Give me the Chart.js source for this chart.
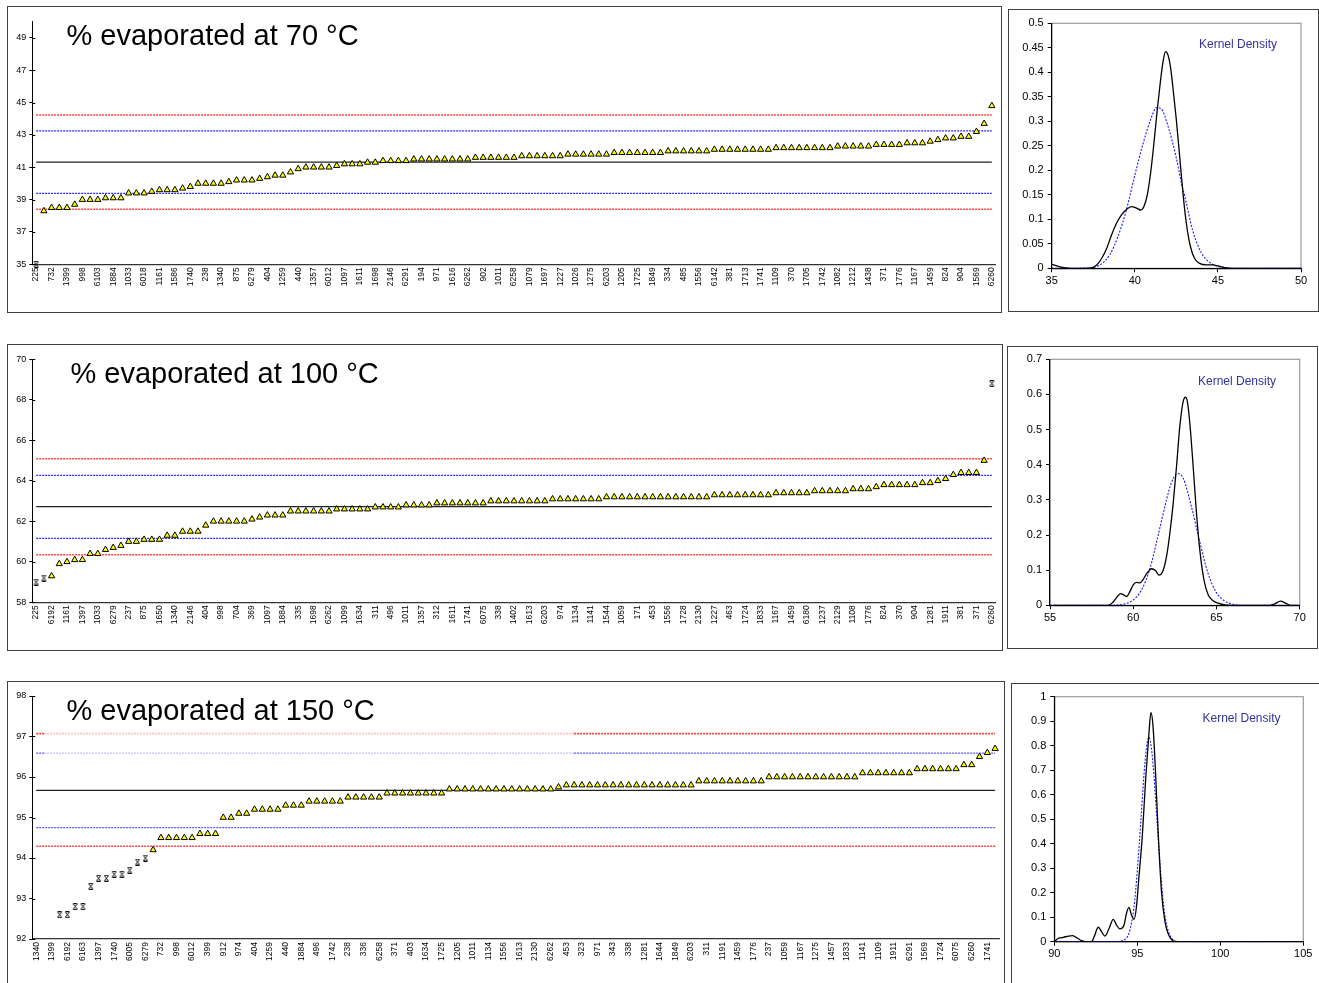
<!DOCTYPE html>
<html><head><meta charset="utf-8">
<script src="https://cdn.jsdelivr.net/npm/chart.js@4.4.1/dist/chart.umd.min.js"></script>
<style>
body{margin:0;background:#fff;width:1319px;height:983px;overflow:hidden;position:relative;font-family:"Liberation Sans",Arial,sans-serif}
.box{position:absolute;border:1px solid #404040;box-sizing:border-box}
canvas{position:absolute}
.ttl{position:absolute;font-size:29px;line-height:29px;color:#000;white-space:nowrap;z-index:5}
.kd{position:absolute;font-size:12px;line-height:12px;color:#333399;white-space:nowrap;z-index:5}
</style></head><body>
<div class="box" style="left:7px;top:6px;width:995px;height:307px"></div>
<div class="box" style="left:1008px;top:9px;width:311px;height:303px"></div>
<div class="box" style="left:7px;top:344px;width:996px;height:307px"></div>
<div class="box" style="left:1007px;top:346px;width:311px;height:303px"></div>
<div class="box" style="left:7px;top:681px;width:998px;height:310px"></div>
<div class="box" style="left:1011px;top:683px;width:320px;height:310px"></div>
<canvas id="c70" width="993" height="305" style="left:8px;top:7px"></canvas>
<canvas id="k70" width="309" height="301" style="left:1009px;top:10px"></canvas>
<canvas id="c100" width="994" height="305" style="left:8px;top:345px"></canvas>
<canvas id="k100" width="309" height="301" style="left:1008px;top:347px"></canvas>
<canvas id="c150" width="996" height="301" style="left:8px;top:682px"></canvas>
<canvas id="k150" width="307" height="299" style="left:1012px;top:684px"></canvas>
<div class="ttl" style="left:66.5px;top:20.5px">% evaporated at 70 °C</div>
<div class="ttl" style="left:70.5px;top:359px">% evaporated at 100 °C</div>
<div class="ttl" style="left:66.5px;top:696px">% evaporated at 150 °C</div>
<div class="kd" style="left:1199px;top:37.5px">Kernel Density</div>
<div class="kd" style="left:1198px;top:375px">Kernel Density</div>
<div class="kd" style="left:1202.5px;top:711.5px">Kernel Density</div>
<script>
// ---------- 70 °C ----------
const labels70 = ['225','732','1399','998','6103','1884','1033','6018','1161','1586','1740','238','1340','875','6279','404','1259','440','1357','6012','1097','1611','1698','2146','6291','194','971','1616','6262','902','1011','6258','1079','1697','1227','1026','1275','6203','1205','1725','1849','334','485','1556','6142','381','1713','1741','1109','370','1705','1742','1082','1212','1438','371','1776','1167','1459','824','904','1569','6260'];
const values70 = [35.0,38.3,38.5,38.5,38.5,38.7,39.0,39.0,39.0,39.1,39.1,39.1,39.4,39.4,39.4,39.5,39.6,39.6,39.6,39.7,39.8,40.0,40.0,40.0,40.0,40.1,40.2,40.2,40.2,40.3,40.4,40.5,40.5,40.7,40.9,41.0,41.0,41.0,41.0,41.1,41.2,41.2,41.2,41.3,41.3,41.4,41.4,41.4,41.4,
41.5,41.5,41.5,41.5,41.5,41.5,41.5,41.5,41.6,41.6,41.6,41.6,41.6,41.6,41.7,41.7,41.7,41.7,41.7,41.7,41.8,41.8,41.8,41.8,41.8,41.8,41.9,41.9,41.9,41.9,41.9,41.9,41.9,
42.0,42.0,42.0,42.0,42.0,42.0,42.1,42.1,42.1,42.1,42.1,42.1,42.1,42.1,42.2,42.2,42.2,42.2,42.2,42.2,42.2,42.2,42.3,42.3,42.3,42.3,42.3,42.4,42.4,42.4,42.4,42.5,42.5,42.5,42.6,42.7,42.8,42.8,42.9,42.9,43.2,43.7,44.8];
const outliers70 = [0];
const refs70 = [44.23, 43.25, 41.32, 39.39, 38.40]; // redHi, blueHi, mean, blueLo, redLo
const yTicks70 = [35,37,39,41,43,45,47,49];
const kdeX70 = [35,35.5,36,36.5,37,37.5,37.8,38,38.3,38.6,38.9,39.2,39.5,39.8,40.1,40.35,40.55,40.75,40.95,41.15,41.35,41.55,41.7,41.85,42,42.15,42.3,42.5,42.7,42.9,43.1,43.35,43.6,43.9,44.3,44.7,45,45.4,45.9,50];
const kdeY70 = [0.008,0.003,0.0005,0,0,0.002,0.01,0.02,0.04,0.068,0.092,0.109,0.12,0.126,0.123,0.119,0.126,0.15,0.194,0.255,0.323,0.384,0.422,0.442,0.435,0.41,0.367,0.303,0.228,0.153,0.092,0.044,0.02,0.01,0.007,0.007,0.005,0.0015,0,0];
const normX70 = [35,36,37,37.5,38,38.5,39,39.5,40,40.5,41,41.3,41.6,42,42.5,42.8,43,43.5,44,44.5,45,45.5,46,50];
const normY70 = [0,0,0.0005,0.002,0.009,0.028,0.066,0.12,0.19,0.255,0.308,0.328,0.325,0.29,0.225,0.175,0.148,0.075,0.032,0.012,0.004,0.001,0,0];

// ---------- 100 °C ----------
const labels100 = ['225','6192','1161','1397','1033','6279','237','875','1650','1340','2146','404','998','704','369','1097','1884','335','1698','6262','1099','1634','311','496','1011','1357','312','1611','1741','6075','338','1402','1613','6203','974','1134','1141','1544','1059','171','453','1556','1728','2130','1227','463','1724','1833','1167','1459','6180','1237','2129','1108','1776','824','370','904','1281','1911','381','371','6260'];
const values100 = [59.0,59.2,59.3,59.9,60.0,60.1,60.1,60.4,60.4,60.6,60.7,60.8,61.0,61.0,61.1,61.1,61.1,61.3,61.3,61.5,61.5,61.5,61.8,
62.0,62.0,62.0,62.0,62.0,62.1,62.2,62.3,62.3,62.3,62.5,62.5,62.5,62.5,62.5,62.5,62.6,62.6,62.6,62.6,62.6,62.7,62.7,62.7,62.7,62.8,62.8,62.8,62.8,
62.9,62.9,62.9,62.9,62.9,62.9,62.9,63.0,63.0,63.0,63.0,63.0,63.0,63.0,63.0,63.1,63.1,63.1,63.1,63.1,63.1,63.1,
63.2,63.2,63.2,63.2,63.2,63.2,63.2,63.2,63.2,63.2,63.2,63.2,63.2,63.2,63.3,63.3,63.3,63.3,63.3,63.3,63.3,63.3,
63.4,63.4,63.4,63.4,63.4,63.5,63.5,63.5,63.5,63.5,63.6,63.6,63.6,63.7,63.8,63.8,63.8,63.8,63.8,63.9,63.9,64.0,64.1,64.3,64.4,64.4,64.4,65.0,68.8];
const outliers100 = [0,1,124];
const refs100 = [65.09, 64.27, 62.72, 61.16, 60.35];
const yTicks100 = [58,60,62,64,66,68,70];
const kdeX100 = [55,58.5,58.8,59.05,59.25,59.45,59.6,59.8,60,60.2,60.4,60.6,60.85,61.1,61.35,61.55,61.8,62,62.2,62.4,62.6,62.8,63,63.15,63.25,63.4,63.6,63.8,64,64.25,64.5,64.8,65.1,65.5,66,68.2,68.5,68.85,69.15,69.45,70];
const kdeY100 = [0,0,0.01,0.025,0.033,0.029,0.025,0.039,0.058,0.065,0.064,0.074,0.093,0.104,0.098,0.086,0.1,0.139,0.205,0.29,0.395,0.51,0.58,0.592,0.58,0.518,0.395,0.262,0.157,0.072,0.03,0.013,0.006,0.001,0,0,0.004,0.012,0.006,0,0];
const normX100 = [55,58.5,59,59.5,60,60.5,61,61.5,62,62.3,62.7,63,63.5,64,64.5,65,65.5,66,66.5,70];
const normY100 = [0,0,0.001,0.004,0.015,0.044,0.104,0.2,0.3,0.35,0.375,0.362,0.28,0.18,0.09,0.036,0.012,0.003,0,0];

// ---------- 150 °C ----------
const labels150 = ['1340','1399','6192','6163','1397','1740','6005','6279','732','998','6012','399','912','974','404','1259','440','1884','496','1742','238','336','6258','371','403','1634','1725','1205','1011','1134','1556','1613','2130','6262','453','323','971','343','338','1281','1644','1849','6203','311','1191','1459','1776','237','1059','1167','1275','1457','1833','1141','1109','1911','6291','1569','1724','6075','6260','1741'];
const values150 = [90.4,90.9,91.1,92.6,92.6,92.8,92.8,93.3,93.5,93.5,93.6,93.6,93.7,93.9,94.0,94.2,94.5,94.5,94.5,94.5,94.5,94.6,94.6,94.6,
95.0,95.0,95.1,95.1,95.2,95.2,95.2,95.2,95.3,95.3,95.3,95.4,95.4,95.4,95.4,95.4,95.5,95.5,95.5,95.5,95.5,
95.6,95.6,95.6,95.6,95.6,95.6,95.6,95.6,95.7,95.7,95.7,95.7,95.7,95.7,95.7,95.7,95.7,95.7,95.7,95.7,95.7,95.7,95.75,
95.8,95.8,95.8,95.8,95.8,95.8,95.8,95.8,95.8,95.8,95.8,95.8,95.8,95.8,95.8,95.8,95.8,95.9,95.9,95.9,95.9,95.9,95.9,95.9,95.9,95.9,
96.0,96.0,96.0,96.0,96.0,96.0,96.0,96.0,96.0,96.0,96.0,96.0,96.1,96.1,96.1,96.1,96.1,96.1,96.1,96.2,96.2,96.2,96.2,96.2,96.2,96.3,96.3,96.5,96.6,96.7];
const outliers150 = [0,1,2,3,4,5,6,7,8,9,10,11,12,13,14];
const refs150 = [97.07, 96.59, 95.67, 94.75, 94.29];
const yTicks150 = [92,93,94,95,96,97,98];
const kdeX150 = [90,90.25,90.55,90.85,91.1,91.4,91.65,91.9,92.25,92.4,92.65,92.85,93.05,93.3,93.55,93.75,93.95,94.2,94.35,94.5,94.65,94.8,94.95,95.1,95.3,95.5,95.7,95.82,95.95,96.1,96.25,96.45,96.65,96.85,97.05,97.3,105];
const kdeY150 = [0,0.014,0.018,0.023,0.025,0.014,0.004,0,0,0.02,0.059,0.041,0.023,0.054,0.091,0.068,0.052,0.068,0.116,0.14,0.109,0.091,0.143,0.265,0.43,0.66,0.85,0.936,0.877,0.687,0.456,0.211,0.088,0.034,0.01,0,0];
const normX150 = [90,93.5,94,94.3,94.5,94.8,95,95.2,95.4,95.55,95.7,95.85,96,96.2,96.4,96.6,96.8,97,97.2,97.4,97.6,105];
const normY150 = [0,0,0.003,0.012,0.035,0.14,0.29,0.48,0.68,0.79,0.835,0.79,0.68,0.48,0.29,0.14,0.06,0.021,0.006,0.001,0,0];

// ---------- helpers ----------
Chart.defaults.font.family = '"Liberation Sans", Arial, sans-serif';
Chart.defaults.color = '#000';

function makeStar(){
  const c = document.createElement('canvas'); c.width = 7; c.height = 7;
  const g = c.getContext('2d'); g.strokeStyle = '#000'; g.lineWidth = 1;
  g.beginPath();
  g.moveTo(1.5,0.5); g.lineTo(5.5,0.5);
  g.moveTo(1.5,6.5); g.lineTo(5.5,6.5);
  g.moveTo(1.5,1); g.lineTo(5.5,6);
  g.moveTo(5.5,1); g.lineTo(1.5,6);
  g.stroke();
  return c;
}
const starImg = makeStar();

function buildCats(lbls, n){
  const c = [];
  for (let i = 0; i < n; i++) c.push(i % 2 === 0 ? (lbls[i/2] !== undefined ? lbls[i/2] : '') : '');
  return c;
}

const crossTicks = {
  id: 'crossTicks',
  afterDraw(chart){
    const ys = chart.scales.y, a = chart.chartArea, g = chart.ctx;
    g.save(); g.strokeStyle = '#000'; g.lineWidth = 1;
    g.beginPath();
    ys.ticks.forEach(t => {
      const p = Math.round(ys.getPixelForValue(t.value)) + 0.5;
      g.moveTo(a.left, p); g.lineTo(a.left + 3, p);
    });
    g.stroke(); g.restore();
  }
};

function leftChart(id, lbls, values, outl, refs, yTicks, geom, fade, blueCol){
  const n = values.length;
  const cats = buildCats(lbls, n);
  const tri = values.map((v,i) => outl.includes(i) ? null : v);
  const out = values.map((v,i) => outl.includes(i) ? v : null);
  const refStyles = [
    {c:'#ff4040', w:1.6, d:[2,1], fc:'rgba(255,120,120,0.45)'},
    {c:blueCol, w:1.3, d:[2,1], fc:'rgba(120,120,255,0.45)'},
    {c:'#222222', w:1.2, d:[]},
    {c:blueCol, w:1.3, d:[2,1]},
    {c:'#ff4040', w:1.6, d:[2,1]}
  ];
  const refSets = refs.map((r,k) => {
    const st = refStyles[k];
    const ds = {type:'line', data: cats.map(() => r), borderColor: st.c, borderWidth: st.w, borderDash: st.d,
      pointRadius: 0, fill: false, tension: 0};
    if (fade && st.fc) {
      ds.segment = {borderColor: ctx => (ctx.p0DataIndex >= fade[0] && ctx.p0DataIndex < fade[1]) ? st.fc : st.c};
    }
    return ds;
  });
  new Chart(document.getElementById(id), {
    type: 'line',
    data: {labels: cats, datasets: [
      {data: tri, showLine: false, pointStyle: 'triangle', pointRadius: 3.6, pointBackgroundColor: '#ffff00',
       pointBorderColor: '#000', pointBorderWidth: 1, clip: 6},
      {data: out, showLine: false, pointStyle: starImg, pointRadius: 3.5, clip: 6},
      ...refSets
    ]},
    plugins: [crossTicks],
    options: {
      responsive: false, animation: false, devicePixelRatio: 1,
      layout: {padding: {left: 0, top: geom.pt, right: geom.pr, bottom: 0}},
      plugins: {legend: {display: false}, tooltip: {enabled: false}},
      scales: {
        x: {type: 'category', offset: true,
            grid: {display: false, drawTicks: false},
            border: {display: true, color: '#333', width: 1.2},
            ticks: {autoSkip: false, maxRotation: 90, minRotation: 90, padding: 3,
                    font: {size: 8.5}, color: '#000'},
            afterFit: s => { s.height = geom.xh; s.paddingLeft = 0; s.paddingRight = 0; }},
        y: {type: 'linear', min: yTicks[0], max: geom.ymax,
            afterBuildTicks: s => { s.ticks = yTicks.map(v => ({value: v})); },
            grid: {drawOnChartArea: false, drawTicks: true, tickLength: 3, color: '#000'},
            border: {display: true, color: '#000', width: 1},
            ticks: {font: {size: 9}, padding: 3, color: '#000'},
            afterFit: s => { s.width = geom.yw; s.paddingTop = 0; s.paddingBottom = 0; }}
      }
    }
  });
}

const grayFrame = {
  id: 'grayFrame',
  beforeDraw(chart){
    const a = chart.chartArea, g = chart.ctx;
    g.save(); g.strokeStyle = '#9a9a9a'; g.lineWidth = 1.2;
    g.strokeRect(a.left, a.top, a.right - a.left, a.bottom - a.top);
    g.restore();
  }
};

function rightChart(id, kx, ky, nx, ny, xr, yr, geom){
  new Chart(document.getElementById(id), {
    type: 'line',
    data: {datasets: [
      {data: kx.map((x,i) => ({x, y: ky[i]})), borderColor: '#000', borderWidth: 1.3, pointRadius: 0,
       cubicInterpolationMode: 'monotone', fill: false},
      {data: nx.map((x,i) => ({x, y: ny[i]})), borderColor: '#1a1aff', borderWidth: 1.1, borderDash: [2,1.5],
       pointRadius: 0, cubicInterpolationMode: 'monotone', fill: false}
    ]},
    plugins: [grayFrame],
    options: {
      responsive: false, animation: false, devicePixelRatio: 1,
      layout: {padding: {left: 0, top: geom.pt, right: geom.pr, bottom: 0}},
      plugins: {legend: {display: false}, tooltip: {enabled: false}},
      scales: {
        x: {type: 'linear', min: xr[0], max: xr[1],
            afterBuildTicks: s => { s.ticks = xr[2].map(v => ({value: v})); },
            grid: {drawOnChartArea: false, drawTicks: true, tickLength: 4, color: '#000'},
            border: {display: true, color: '#000', width: 1.2},
            ticks: {font: {size: 11}, padding: 2, color: '#000', maxRotation: 0},
            afterFit: s => { s.height = geom.xh; s.paddingLeft = 0; s.paddingRight = 0; }},
        y: {type: 'linear', min: 0, max: yr[0],
            afterBuildTicks: s => { s.ticks = yr[1].map(v => ({value: v})); },
            grid: {drawOnChartArea: false, drawTicks: true, tickLength: 4, color: '#000'},
            border: {display: true, color: '#000', width: 1.2},
            ticks: {font: {size: 11}, padding: 4, color: '#000',
                    callback: v => String(Math.round(v * 100) / 100)},
            afterFit: s => { s.width = geom.yw; s.paddingTop = 0; s.paddingBottom = 0; }}
      }
    }
  });
}

const kdeYTicks70 = [0,0.05,0.1,0.15,0.2,0.25,0.3,0.35,0.4,0.45,0.5];
const kdeYTicks100 = [0,0.1,0.2,0.3,0.4,0.5,0.6,0.7];
const kdeYTicks150 = [0,0.1,0.2,0.3,0.4,0.5,0.6,0.7,0.8,0.9,1];

leftChart('c70', labels70, values70, outliers70, refs70, yTicks70, {pt:14.7, pr:5.3, xh:47.7, yw:24.3, ymax:50}, null, '#2a2aff');
leftChart('c100', labels100, values100, outliers100, refs100, yTicks100, {pt:14.3, pr:6.3, xh:47.7, yw:24.3, ymax:70}, null, '#2a2aff');
leftChart('c150', labels150, values150, outliers150, refs150, yTicks150, {pt:14, pr:4.7, xh:44, yw:24.3, ymax:98}, [1,69], '#5a5aff');

rightChart('k70', kdeX70, kdeY70, normX70, normY70, [35,50,[35,40,45,50]], [0.5, kdeYTicks70], {pt:13.3, pr:17, xh:42.7, yw:42.7});
rightChart('k100', kdeX100, kdeY100, normX100, normY100, [55,70,[55,60,65,70]], [0.7, kdeYTicks100], {pt:12.3, pr:17.3, xh:42.7, yw:42});
rightChart('k150', kdeX150, kdeY150, normX150, normY150, [90,105,[90,95,100,105]], [1, kdeYTicks150], {pt:12.7, pr:15.7, xh:41.3, yw:42.3});
</script>
</body></html>
